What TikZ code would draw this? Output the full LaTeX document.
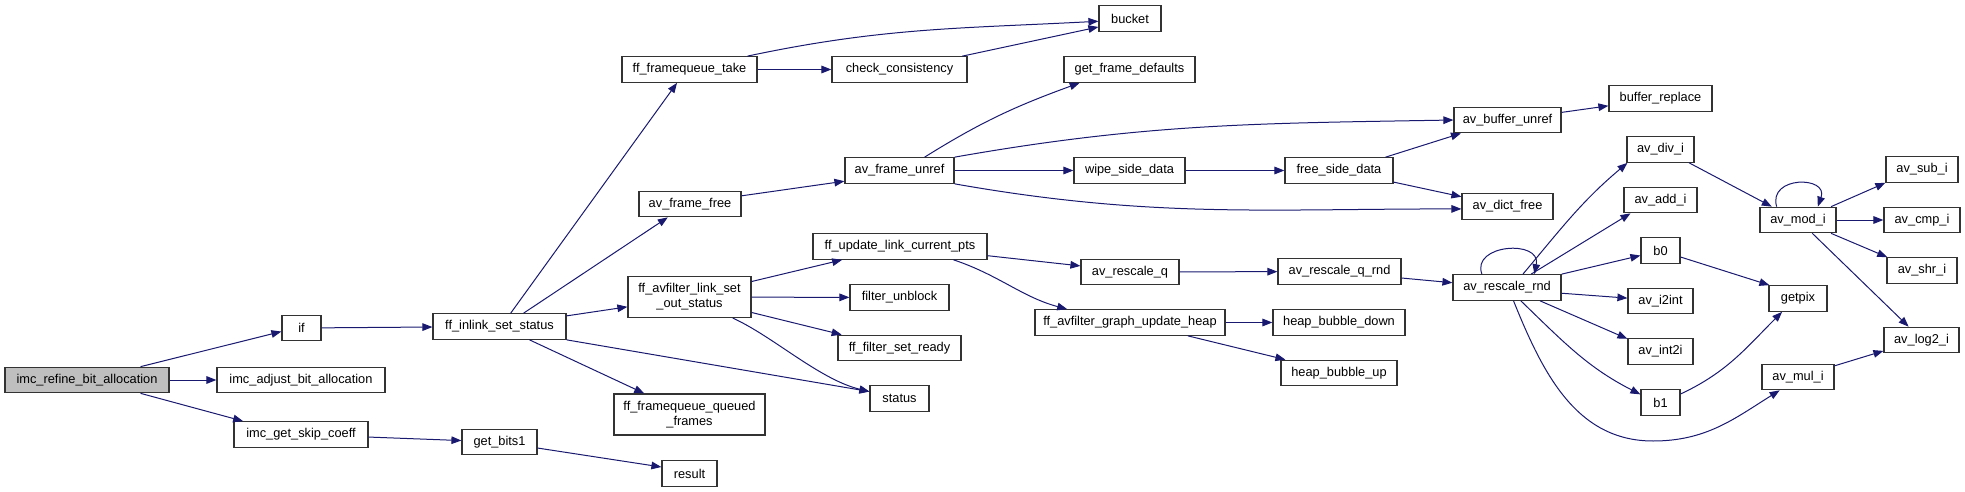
\documentclass[tikz,border=0pt]{standalone}
\usepackage{fontspec}
\setmainfont{Liberation Sans}
\usepackage{xcolor}
\usepackage{tikz}
\usetikzlibrary{arrows.meta}
\definecolor{cEdge}{HTML}{191970}
\definecolor{cFrame}{HTML}{333333}
\definecolor{cRoot}{HTML}{BFBFBF}

\begin{document}
\begin{tikzpicture}[
  x=0.5pt,y=-0.5pt,
  font=\fontsize{6.4}{7.5}\selectfont,
  box/.style={draw=cFrame,line width=0.6pt,fill=white,inner sep=0pt,
    minimum height=12.75pt,minimum width={#1*0.5pt},align=center},
  two/.style={minimum height=20.5pt},
  ar/.style={-{Triangle[length=5pt,width=3.8pt]},draw=cEdge,line width=0.5pt}
]
\useasboundingbox (0,0) rectangle (1965,492);
% caller and first level
\node[box=164,fill=cRoot] (refine) at (87,380) {imc\_refine\_bit\_allocation};
\node[box=39] (ifcall) at (301.5,328) {if};
\node[box=168] (adjust) at (301,380) {imc\_adjust\_bit\_allocation};
\node[box=134] (skip) at (301,434.5) {imc\_get\_skip\_coeff};
\node[box=133] (inlink) at (499.5,326.5) {ff\_inlink\_set\_status};
\node[box=75] (bitsone) at (499.5,442) {get\_bits1};
\node[box=135] (take) at (689.5,69.5) {ff\_framequeue\_take};
\node[box=102] (framefree) at (690,204) {av\_frame\_free};
\node[box=123,two] (outstatus) at (689.5,297) {ff\_avfilter\_link\_set\\\_out\_status};
\node[box=151,two] (queued) at (689.5,414.5) {ff\_framequeue\_queued\\\_frames};
\node[box=55] (result) at (689.5,473.5) {result};
% middle columns
\node[box=135] (check) at (899.5,69.5) {check\_consistency};
\node[box=109] (unref) at (899.5,170.5) {av\_frame\_unref};
\node[box=174] (updpts) at (900,246.5) {ff\_update\_link\_current\_pts};
\node[box=99] (unblock) at (899.5,297.5) {filter\_unblock};
\node[box=123] (setready) at (899.5,348) {ff\_filter\_set\_ready};
\node[box=59] (status) at (899.5,398.5) {status};
\node[box=62] (bucket) at (1130,18.5) {bucket};
\node[box=131] (defaults) at (1129.5,69.5) {get\_frame\_defaults};
\node[box=111] (wipe) at (1129.5,170.5) {wipe\_side\_data};
\node[box=98] (rescaleq) at (1130,272) {av\_rescale\_q};
\node[box=190] (heap) at (1130,322.5) {ff\_avfilter\_graph\_update\_heap};
\node[box=108] (freeside) at (1339,170.5) {free\_side\_data};
\node[box=123] (qrnd) at (1339.5,271.5) {av\_rescale\_q\_rnd};
\node[box=132] (bubbledown) at (1339,322.5) {heap\_bubble\_down};
\node[box=116] (bubbleup) at (1339,373) {heap\_bubble\_up};
\node[box=107] (bufunref) at (1507.5,120) {av\_buffer\_unref};
\node[box=91] (dictfree) at (1507.5,206.5) {av\_dict\_free};
\node[box=108] (rnd) at (1507,287.5) {av\_rescale\_rnd};
% right columns
\node[box=103] (bufreplace) at (1660.5,98.5) {buffer\_replace};
\node[box=67] (divi) at (1660.5,149.5) {av\_div\_i};
\node[box=73] (addi) at (1660.5,200) {av\_add\_i};
\node[box=39] (bzero) at (1660.5,250.5) {b0};
\node[box=65] (itoint) at (1660.5,301) {av\_i2int};
\node[box=65] (inttoi) at (1660.5,351.5) {av\_int2i};
\node[box=39] (bone) at (1660.5,402.5) {b1};
\node[box=76] (modi) at (1798,220) {av\_mod\_i};
\node[box=58] (getpix) at (1798,298.5) {getpix};
\node[box=72] (muli) at (1798,377) {av\_mul\_i};
\node[box=72] (subi) at (1922,169.5) {av\_sub\_i};
\node[box=76] (cmpi) at (1922,220) {av\_cmp\_i};
\node[box=70] (shri) at (1922,270.5) {av\_shr\_i};
\node[box=75] (logi) at (1921.5,340) {av\_log2\_i};
% calls
\draw[ar] (refine.14) -- (ifcall.190);  \draw[ar] (refine) -- (adjust);
\draw[ar] (refine.-14) -- (skip.167);   \draw[ar] (ifcall) -- (inlink);
\draw[ar] (skip) -- (bitsone);  \draw[ar] (bitsone.-9) -- (result.167);
\draw[ar] (inlink.50) -- (take.-133);  \draw[ar] (inlink.29) -- (framefree.-149);
\draw[ar] (inlink.9) -- (outstatus.-171);  \draw[ar] (inlink.south east) -- (status.167);
\draw[ar] (inlink.-24) -- (queued.155);
\draw[ar] (take) -- (check);
\draw[ar] (take.13) to[out=12,in=183] (bucket.185);
\draw[ar] (check.12) -- (bucket.-165);
\draw[ar] (framefree.9) -- (unref.-169);
\draw[ar] (unref.28) to[out=32,in=-160] (defaults.-165);
\draw[ar] (unref.north east) to[out=10,in=181] (bufunref.west);
\draw[ar] (unref) -- (wipe);
\draw[ar] (unref.south east) to[out=-10,in=180] (dictfree.183);
\draw[ar] (wipe) -- (freeside);
\draw[ar] (freeside.16) -- (bufunref.-164);  \draw[ar] (freeside.-12) -- (dictfree.168);
\draw[ar] (bufunref.8) -- (bufreplace.-172);
\draw[ar] (outstatus.14) -- (updpts.-167);  \draw[ar] (outstatus) -- (unblock);
\draw[ar] (outstatus.-14) -- (setready.167);
\draw[ar] (outstatus.-26) .. controls +(40,18) and +(-50,-12) .. (status.167);
\draw[ar] (updpts.-6) -- (rescaleq.173);
\draw[ar] (updpts.-14) .. controls +(45,15) and +(-45,-12) .. (heap.168);
\draw[ar] (rescaleq) -- (qrnd);  \draw[ar] (heap) -- (bubbledown);
\draw[ar] (heap.-13) -- (bubbleup.166);
\draw[ar] (qrnd.-6) -- (rnd.175);
\draw[ar] (rnd.152) .. controls +(-11,-30) and +(7,-35) .. (rnd.26);
\draw[ar] (rnd.40) to[out=50,in=-140] (divi.-158);
\draw[ar] (rnd.29) -- (addi.-156);  \draw[ar] (rnd.north east) -- (bzero.-166);
\draw[ar] (rnd.-6) -- (itoint.175);  \draw[ar] (rnd.-22) -- (inttoi.159);
\draw[ar] (rnd.-44) to[out=-44,in=153] (bone.158);
\draw[ar] (rnd.-64) to[out=-68,in=180] (1653,441) to[out=0,in=-148] (muli.-144);
\draw[ar] (divi.-25) -- (modi.153);
\draw[ar] (modi.148) .. controls +(-9,-31) and +(11,-31) .. (modi.34);
\draw[ar] (modi.22) -- (subi.-160);  \draw[ar] (modi) -- (cmpi);
\draw[ar] (modi.-22) -- (shri.159);  \draw[ar] (modi.-43) -- (logi.134);
\draw[ar] (bzero.-18) -- (getpix.155);
\draw[ar] (bone.23) to[out=25,in=-135] (getpix.-140);
\draw[ar] (muli.17) -- (logi.-164);
\end{tikzpicture}
\end{document}
